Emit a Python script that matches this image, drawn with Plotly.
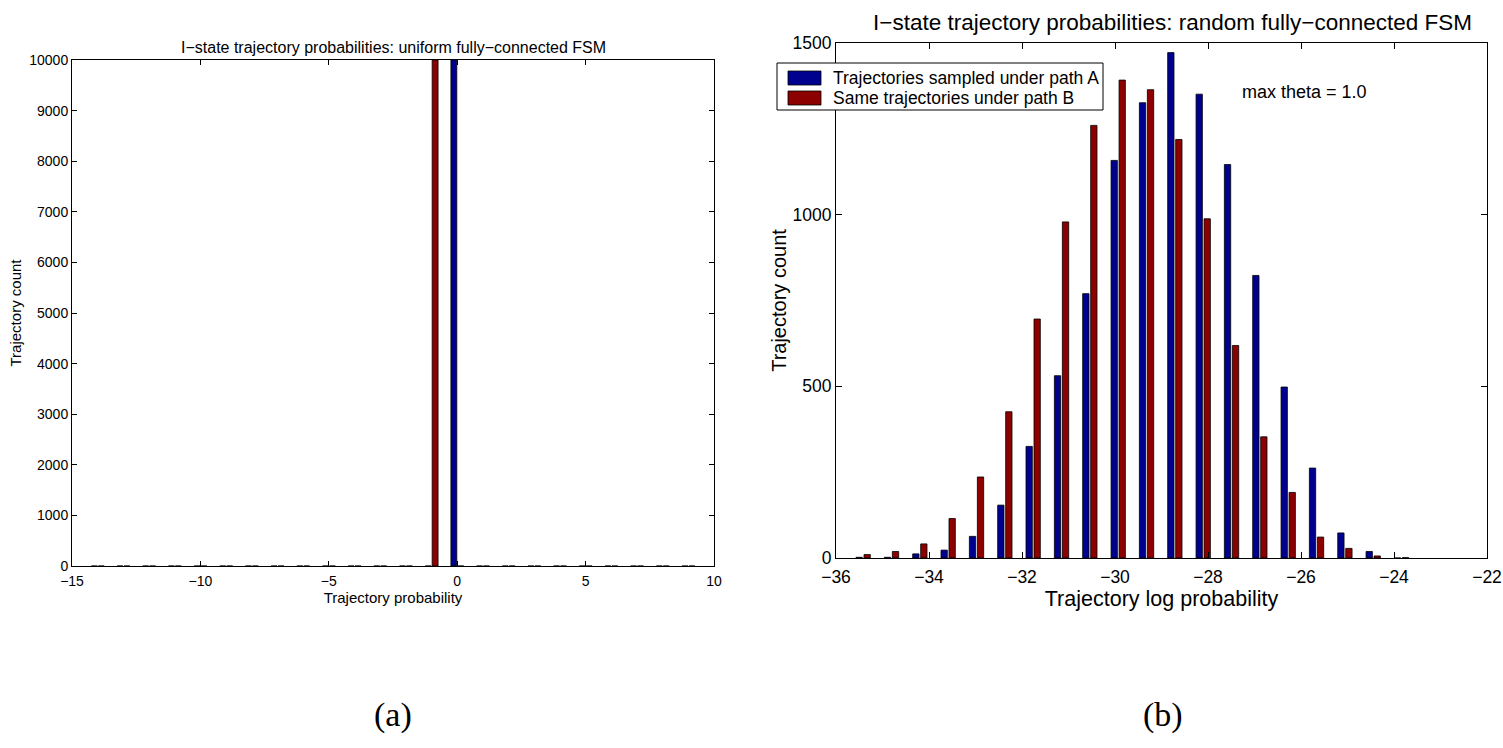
import plotly.graph_objects as go

# ---- Panel (a): uniform fully-connected FSM ----
a_bins = list(range(-14, 10))
a_path_A = [0]*14 + [10000] + [0]*9          # bin 0
a_path_B = [0]*13 + [10000] + [0]*10         # bin -1

# ---- Panel (b): random fully-connected FSM ----
b_bins = [-35.416, -34.806, -34.197, -33.588, -32.978, -32.369, -31.760, -31.150,
          -30.541, -29.931, -29.322, -28.713, -28.103, -27.494, -26.885, -26.275,
          -25.666, -25.056, -24.447, -23.838]
b_path_A = [2, 2, 12, 23, 63, 154, 325, 531, 770, 1158, 1326, 1472, 1351, 1146,
            823, 498, 262, 73, 19, 0]
b_path_B = [10, 19, 41, 115, 236, 426, 696, 979, 1260, 1392, 1364, 1219, 988, 619,
            353, 191, 61, 28, 6, 1]

names = ["Trajectories sampled under path A", "Same trajectories under path B"]
BLUE = "rgb(0,0,143)"
RED = "rgb(140,0,0)"
W, H = 1503, 748
FONT = "Liberation Sans, Arial, sans-serif"
SERIF = "Liberation Serif, Times New Roman, serif"

def px_x(p):
    return p / W

def px_y(p):
    return 1 - p / H

fig = go.Figure()
# panel a bars
fig.add_trace(go.Bar(x=a_bins, y=a_path_A, name=names[0], marker=dict(color=BLUE, line=dict(color="black", width=0.8)),
                     width=0.23, offset=-0.245, xaxis="x", yaxis="y", showlegend=False))
fig.add_trace(go.Bar(x=a_bins, y=a_path_B, name=names[1], marker=dict(color=RED, line=dict(color="black", width=0.8)),
                     width=0.23, offset=0.025, xaxis="x", yaxis="y", showlegend=False))
# panel b bars
fig.add_trace(go.Bar(x=b_bins, y=b_path_A, name=names[0], marker=dict(color=BLUE, line=dict(color="black", width=0.8)),
                     width=0.136, offset=-0.154, xaxis="x2", yaxis="y2", showlegend=False))
fig.add_trace(go.Bar(x=b_bins, y=b_path_B, name=names[1], marker=dict(color=RED, line=dict(color="black", width=0.8)),
                     width=0.136, offset=0.018, xaxis="x2", yaxis="y2", showlegend=False))

ax_common = dict(showgrid=False, zeroline=False, showline=True, linecolor="black", linewidth=1,
                 mirror="ticks", ticks="inside", tickcolor="black", automargin=False, tickformat="d",
                 ticklabeloverflow="allow")

# legend drawn as a boxed key (paper coordinates)
shapes = [
    dict(type="rect", xref="paper", yref="paper", x0=px_x(777), x1=px_x(1103), y0=px_y(110), y1=px_y(63),
         line=dict(color="black", width=1), fillcolor="white", layer="above"),
    dict(type="rect", xref="paper", yref="paper", x0=px_x(788), x1=px_x(821), y0=px_y(85), y1=px_y(71),
         line=dict(color="black", width=0.8), fillcolor=BLUE, layer="above"),
    dict(type="rect", xref="paper", yref="paper", x0=px_x(788), x1=px_x(821), y0=px_y(105), y1=px_y(91),
         line=dict(color="black", width=0.8), fillcolor=RED, layer="above"),
]

annotations = [
    dict(text="I\u2212state trajectory probabilities: uniform fully\u2212connected FSM", xref="paper", yref="paper",
         x=px_x(393), y=px_y(47), xanchor="center", yanchor="middle", showarrow=False, font=dict(size=16)),
    dict(text="I\u2212state trajectory probabilities: random fully\u2212connected FSM", xref="paper", yref="paper",
         x=px_x(1172), y=px_y(22), xanchor="center", yanchor="middle", showarrow=False, font=dict(size=22.5)),
    dict(text="max theta = 1.0", xref="paper", yref="paper",
         x=px_x(1240), y=px_y(92), xanchor="left", yanchor="middle", showarrow=False, font=dict(size=18)),
    dict(text=names[0], xref="paper", yref="paper", x=px_x(831), y=px_y(78), xanchor="left", yanchor="middle",
         showarrow=False, font=dict(size=17.5)),
    dict(text=names[1], xref="paper", yref="paper", x=px_x(831), y=px_y(98), xanchor="left", yanchor="middle",
         showarrow=False, font=dict(size=17.5)),
    dict(text="(a)", xref="paper", yref="paper", x=px_x(393), y=px_y(715), xanchor="center", yanchor="middle",
         showarrow=False, font=dict(size=34, family=SERIF)),
    dict(text="(b)", xref="paper", yref="paper", x=px_x(1163), y=px_y(715), xanchor="center", yanchor="middle",
         showarrow=False, font=dict(size=34, family=SERIF)),
]

fig.update_layout(
    width=W, height=H,
    margin=dict(l=0, r=0, t=0, b=0, autoexpand=False),
    paper_bgcolor="white", plot_bgcolor="white",
    font=dict(family=FONT, color="black"),
    barmode="overlay",
    showlegend=False,
    hovermode=False,
    xaxis=dict(ax_common, domain=[px_x(72), px_x(714)], range=[-15, 10], tickvals=[-15, -10, -5, 0, 5, 10],
               ticklen=5, tickfont=dict(size=14), ticklabelstandoff=2,
               title=dict(text="Trajectory probability", font=dict(size=15), standoff=0)),
    yaxis=dict(ax_common, domain=[px_y(566), px_y(60)], range=[0, 10000], tickvals=list(range(0, 10001, 1000)),
               ticklen=5, tickfont=dict(size=14),
               title=dict(text="Trajectory count", font=dict(size=15), standoff=4)),
    xaxis2=dict(ax_common, domain=[px_x(836), px_x(1487)], range=[-36, -22], tickvals=[-36, -34, -32, -30, -28, -26, -24, -22],
                ticklen=6, tickfont=dict(size=17.5), anchor="y2", ticklabelstandoff=3,
                title=dict(text="Trajectory log probability", font=dict(size=21.5), standoff=0)),
    yaxis2=dict(ax_common, domain=[px_y(558), px_y(43)], range=[0, 1500], tickvals=[0, 500, 1000, 1500],
                ticklen=6, tickfont=dict(size=17.5), anchor="x2",
                title=dict(text="Trajectory count", font=dict(size=20), standoff=0)),
    shapes=shapes,
    annotations=annotations,
)

fig.write_html("out.html", config={"displayModeBar": False},
               post_script="document.body.style.margin='0px';document.body.style.overflow='hidden';")
